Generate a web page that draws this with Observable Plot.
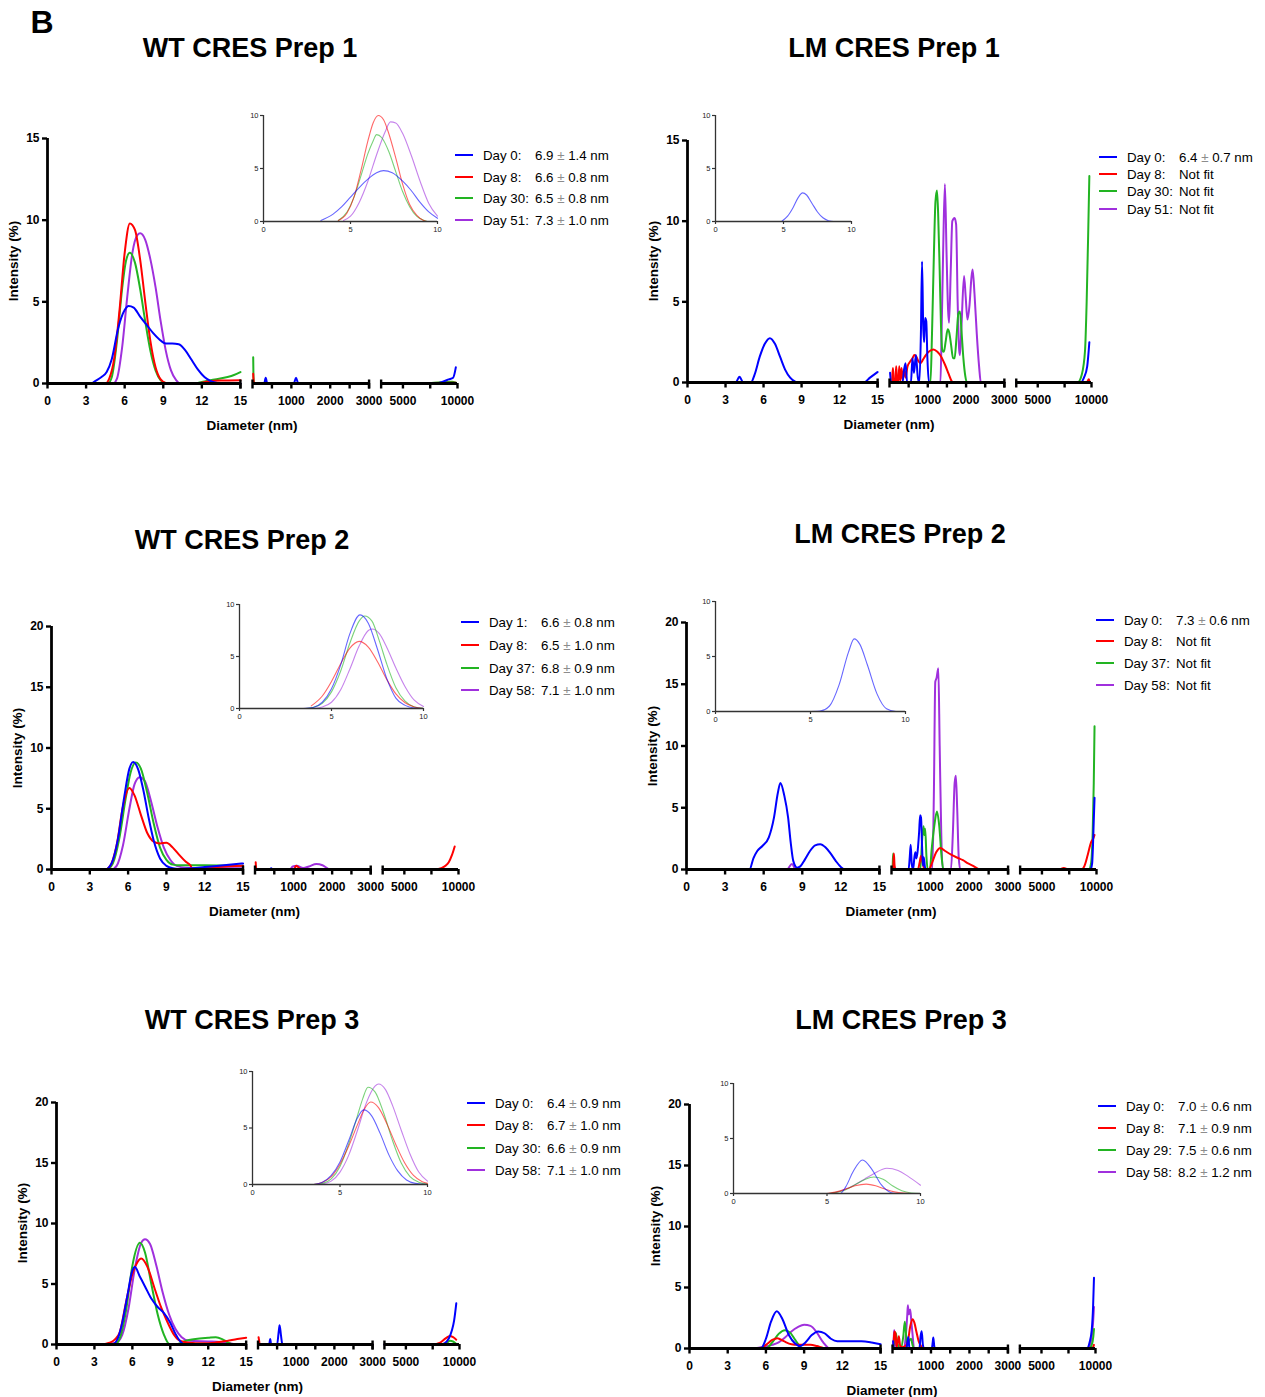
<!DOCTYPE html>
<html>
<head>
<meta charset="utf-8">
<script src="https://cdn.jsdelivr.net/npm/d3@7"></script>
<script src="https://cdn.jsdelivr.net/npm/@observablehq/plot@0.6"></script>
<style>
html,body{margin:0;padding:0;background:#fff;}
#root{position:relative;width:1265px;height:1397px;overflow:hidden;font-family:"Liberation Sans",Arial,Helvetica,sans-serif;color:#000;}
#root .a{position:absolute;white-space:nowrap;}
.big{font-weight:bold;font-size:32px;transform:translate(-50%,-50%);}
.ttl{font-weight:bold;font-size:27px;transform:translate(-50%,-50%);}
.axt{font-weight:bold;font-size:13.5px;transform:translate(-50%,-50%);}
.ayt{font-weight:bold;font-size:13.5px;transform:translate(-50%,-50%) rotate(-90deg);}
.leg{font-size:13.3px;transform:translateY(-50%);}
.pm{color:#8c8c8c;}
</style>
</head>
<body>
<div id="root"></div>
<script>
// ---------- colours ----------
const BLUE = "#0000ff", RED = "#ff0000", GREEN = "#22b422", PURPLE = "#a030dd";
const SERIES_COLORS = [BLUE, RED, GREEN, PURPLE];

// ---------- tick labels ----------
const yTicks15 = [0, 5, 10, 15];
const yTicks20 = [0, 5, 10, 15, 20];
const xMajor = [0, 3, 6, 9, 12, 15, 1000, 2000, 3000, 5000, 10000];
const xMajorSeg = [0, 0, 0, 0, 0, 0, 1, 1, 1, 2, 2];
const xMinor = [500, 1500, 2500, 7500];
const xMinorSeg = [1, 1, 1, 2];
const insetTicks = [0, 5, 10];

// ---------- WT CRES Prep 1 ----------
const wt1Days = ["Day 0:", "Day 8:", "Day 30:", "Day 51:"];
const wt1Sizes = ["6.9 ± 1.4 nm", "6.6 ± 0.8 nm", "6.5 ± 0.8 nm", "7.3 ± 1.0 nm"];
const wt1Day0 = [
  [[0,0],[3.4,0],[3.7,0.15],[4.2,0.4],[4.6,0.7],[5,1.5],[5.5,3.4],[6,4.5],[6.3,4.75],[6.7,4.65],[7.2,4.1],[7.7,3.6],[8.2,3.1],[8.7,2.7],[9.2,2.45],[9.7,2.45],[10.2,2.4],[10.7,2.05],[11.2,1.45],[11.7,0.85],[12.2,0.4],[12.7,0.15],[13.2,0.03],[13.6,0],[15,0]],
  [[15,0],[300,0],[340,0.35],[380,0],[1060,0],[1120,0.35],[1180,0],[3000,0]],
  [[3000,0],[8000,0],[8600,0.1],[9200,0.25],[9600,0.35],[9850,1.0]]
];
const wt1Day8 = [
  [[0,0],[4.5,0],[4.8,0.3],[5.2,1.6],[5.6,4.5],[6,8],[6.4,9.8],[6.8,9.4],[7.2,7.6],[7.6,5],[8,2.6],[8.4,1],[8.8,0.25],[9.2,0.03],[9.6,0],[11.5,0],[12.5,0.12],[13.5,0.18],[15,0.2]],
  [[18,0.6],[30,0.15],[50,0],[3000,0]],
  [[3000,0],[9850,0.05]]
];
const wt1Day30 = [
  [[0,0],[4.7,0],[5,0.4],[5.4,2.6],[5.8,5.8],[6.1,7.5],[6.4,8],[6.8,7.4],[7.2,5.8],[7.6,3.8],[8,2],[8.4,0.8],[8.8,0.2],[9.2,0.02],[9.6,0],[11.5,0],[12,0.1],[13,0.25],[14,0.4],[14.5,0.52],[15,0.7]],
  [[18,1.6],[25,0.4],[40,0],[3000,0]],
  [[3000,0],[7000,0],[8500,0.08],[9500,0.1],[9850,0.05]]
];
const wt1Day51 = [
  [[0,0],[5.1,0],[5.4,0.3],[5.8,2.2],[6.2,5.3],[6.6,8],[7,9.1],[7.2,9.2],[7.6,8.8],[8,7.6],[8.4,5.9],[8.8,3.8],[9.2,2],[9.6,0.8],[10,0.2],[10.3,0],[15,0]],
  [[15,0],[3000,0]],
  [[3000,0],[9850,0]]
];
const wt1Day0Fit = [[3.3,0.1],[4,0.7],[4.5,1.4],[5,2.3],[5.5,3.2],[6,4],[6.5,4.6],[6.9,4.8],[7.4,4.6],[8,3.8],[8.5,2.9],[9,1.8],[9.5,0.9],[10,0.3]];
const wt1Day8Fit = [[4.3,0.1],[4.8,0.8],[5.2,2.3],[5.6,4.8],[6,7.6],[6.3,9.3],[6.6,10],[6.9,9.6],[7.2,8.3],[7.6,6],[8,3.5],[8.4,1.6],[8.8,0.6],[9.2,0.1],[9.4,0]];
const wt1Day30Fit = [[4.3,0.1],[4.8,0.9],[5.2,2.3],[5.6,4.3],[6,6.4],[6.3,7.6],[6.5,8.2],[6.8,7.9],[7.2,6.6],[7.6,4.7],[8,2.8],[8.4,1.4],[8.8,0.5],[9.2,0.12],[9.4,0]];
const wt1Day51Fit = [[4.6,0.1],[5,0.5],[5.5,1.8],[6,3.8],[6.5,6.3],[7,8.5],[7.3,9.4],[7.6,9.3],[8,8.3],[8.5,6.2],[9,3.8],[9.5,1.7],[10,0.5]];

// ---------- LM CRES Prep 1 ----------
const lm1Days = ["Day 0:", "Day 8:", "Day 30:", "Day 51:"];
const lm1Sizes = ["6.4 ± 0.7 nm", "Not fit", "Not fit", "Not fit"];
const lm1Day0 = [
  [[0,0],[3.8,0],[4.1,0.35],[4.4,0],[5,0],[5.3,0.5],[5.7,1.6],[6.1,2.4],[6.5,2.75],[6.9,2.4],[7.3,1.6],[7.7,0.8],[8.1,0.3],[8.5,0.05],[8.8,0],[13.9,0],[14.4,0.3],[15,0.65]],
  [[15,0.6],[40,0],[340,0],[380,0.8],[420,1.2],[460,0],[560,0],[600,1.5],[640,0.6],[690,1.7],[740,0.3],[780,0],[820,3],[850,7.5],[880,3.5],[905,2.5],[930,4],[960,3.8],[990,1.5],[1030,0],[3000,0]],
  [[3000,0],[9000,0],[9300,0.3],[9600,1],[9800,2.5]]
];
const lm1Day8 = [
  [[0,0],[15,0]],
  [[15,0],[60,0],[90,0.9],[115,0],[150,0],[175,1.0],[200,0.1],[230,0],[255,1.0],[285,0.1],[315,0.9],[345,0.2],[385,0.8],[420,0.3],[470,1.0],[540,1.3],[600,1.5],[650,1.7],[700,1.6],[760,1.3],[810,1.2],[870,1.4],[950,1.7],[1050,1.95],[1150,2.05],[1250,1.9],[1350,1.6],[1450,1.1],[1550,0.5],[1620,0.1],[1660,0],[3000,0]],
  [[3000,0],[9550,0],[9750,0.2],[9800,0.1]]
];
const lm1Day30 = [
  [[0,0],[15,0]],
  [[15,0],[1070,0],[1110,3],[1160,8],[1200,11.2],[1240,11.9],[1270,10.5],[1310,7],[1345,3.5],[1380,2],[1420,1.9],[1470,2.6],[1520,3.3],[1560,3.1],[1610,2.3],[1660,1.5],[1700,1.5],[1750,2.8],[1800,4.3],[1840,4.4],[1880,3.2],[1930,1.5],[1980,0.4],[2020,0],[3000,0]],
  [[3000,0],[8700,0],[9100,0.5],[9400,2],[9550,5],[9700,9.5],[9800,12.8]]
];
const lm1Day51 = [
  [[0,0],[15,0]],
  [[15,0],[1330,0],[1360,3],[1400,8],[1447,12.3],[1490,8],[1530,4.5],[1555,3.7],[1600,7],[1640,10],[1700,10.2],[1740,9.8],[1780,5],[1820,2],[1840,1.7],[1880,3.5],[1947,6.6],[1990,5.3],[2035,3.9],[2090,4.8],[2140,6.5],[2170,7],[2220,5.5],[2280,3],[2340,1],[2386,0],[3000,0]],
  [[3000,0],[9800,0]]
];
const lm1Day0Fit = [[4.9,0.05],[5.3,0.5],[5.7,1.3],[6.1,2.3],[6.4,2.7],[6.7,2.5],[7.1,1.7],[7.5,0.9],[7.9,0.35],[8.3,0.08],[8.7,0],[9,0]];

// ---------- WT CRES Prep 2 ----------
const wt2Days = ["Day 1:", "Day 8:", "Day 37:", "Day 58:"];
const wt2Sizes = ["6.6 ± 0.8 nm", "6.5 ± 1.0 nm", "6.8 ± 0.9 nm", "7.1 ± 1.0 nm"];
const wt2Day1 = [
  [[0,0],[4.2,0],[4.7,0.5],[5.2,2.5],[5.7,6],[6.1,8.3],[6.4,8.85],[6.8,8.2],[7.2,6.5],[7.6,4.3],[8,2.4],[8.5,0.9],[9,0.3],[9.5,0.1],[10,0.05],[11,0.1],[12,0.2],[13.5,0.35],[15,0.5]],
  [[15,0],[380,0],[420,0.1],[460,0],[3000,0]],
  [[3000,0],[9700,0]]
];
const wt2Day8 = [
  [[0,0],[4.2,0],[4.6,0.3],[5.1,2],[5.6,5.2],[6.1,6.7],[6.5,6.1],[7,4.5],[7.5,3],[8,2.3],[8.5,2.15],[9,2.2],[9.5,1.8],[10,1.2],[10.5,0.65],[10.9,0.3],[11,0.05],[11.5,0.05],[12,0.1],[13,0.2],[15,0.3]],
  [[18,0.6],[30,0.1],[50,0],[1000,0],[1070,0.3],[1150,0.1],[1250,0],[3000,0]],
  [[3000,0],[7900,0],[8400,0.1],[8800,0.3],[9100,0.6],[9400,1.2],[9650,1.9]]
];
const wt2Day37 = [
  [[0,0],[4.3,0],[4.8,0.5],[5.3,2.5],[5.8,5.8],[6.2,8],[6.6,8.8],[7,8.3],[7.5,6.3],[8,3.8],[8.5,1.8],[9,0.8],[9.5,0.4],[10,0.35],[12,0.35],[15,0.3]],
  [[15,0],[3000,0]],
  [[3000,0],[9700,0]]
];
const wt2Day58 = [
  [[0,0],[4.7,0],[5.1,0.3],[5.6,2],[6.1,5],[6.5,7],[6.9,7.6],[7.3,7.3],[7.8,5.6],[8.3,3.5],[8.8,1.8],[9.3,0.8],[9.8,0.3],[10.5,0.15],[12,0.12],[15,0.1]],
  [[15,0],[900,0],[980,0.25],[1080,0.3],[1250,0.12],[1400,0.25],[1590,0.45],[1750,0.35],[1900,0.05],[1950,0],[3000,0]],
  [[3000,0],[9700,0]]
];
const wt2Day1Fit = [[3.5,0],[4,0.1],[4.5,0.6],[5,1.9],[5.5,4.2],[6,7.2],[6.55,9],[7,8.2],[7.5,5.7],[8,2.9],[8.5,1],[9,0.3],[9.5,0.05],[10,0]];
const wt2Day8Fit = [[3.9,0.25],[4.5,1.2],[5,2.6],[5.5,4.3],[6,5.8],[6.5,6.45],[7,5.9],[7.5,4.5],[8,2.8],[8.5,1.4],[9,0.55],[9.5,0.15],[10,0]];
const wt2Day37Fit = [[3.6,0],[4,0.1],[4.5,0.5],[5,1.6],[5.5,3.6],[6,6.3],[6.5,8.4],[6.8,8.9],[7.2,8.4],[7.6,6.5],[8,4.3],[8.5,2],[9,0.7],[9.5,0.15],[10,0.02]];
const wt2Day58Fit = [[3.1,0],[4,0.02],[4.5,0.15],[5,0.6],[5.5,1.8],[6,3.8],[6.5,6],[7,7.5],[7.2,7.65],[7.6,7.2],[8,5.9],[8.5,3.9],[9,2.1],[9.5,0.8],[10,0.2]];

// ---------- LM CRES Prep 2 ----------
const lm2Days = ["Day 0:", "Day 8:", "Day 37:", "Day 58:"];
const lm2Sizes = ["7.3 ± 0.6 nm", "Not fit", "Not fit", "Not fit"];
const lm2Day0 = [
  [[0,0],[4.9,0],[5.2,0.9],[5.5,1.5],[5.9,1.9],[6.4,2.6],[6.8,4.2],[7.1,6.2],[7.3,7.0],[7.6,6],[7.9,4.2],[8.1,2.2],[8.3,0.7],[8.6,0.15],[8.85,0.25],[9.2,0.8],[9.6,1.5],[10,1.95],[10.4,2.05],[10.8,1.8],[11.2,1.3],[11.6,0.7],[12,0.2],[12.3,0],[15,0]],
  [[15,0],[440,0],[470,1],[494,2.0],[520,0.5],[555,0],[590,1],[615,1.4],[640,0.9],[670,1.4],[710,3],[737,4.4],[760,4.2],[785,2],[810,0.3],[830,1],[860,0.2],[884,0],[3000,0]],
  [[3000,0],[9450,0],[9600,0.5],[9680,2],[9750,4],[9820,5.8]]
];
const lm2Day8 = [
  [[0,0],[15,0]],
  [[15,0],[40,0],[61,1.3],[80,0.3],[110,0],[680,0],[720,0.5],[760,1.1],[800,0.6],[850,0],[960,0],[1050,0.6],[1150,1.4],[1257,1.75],[1380,1.5],[1535,1.2],[1700,0.95],[1838,0.75],[1970,0.5],[2100,0.3],[2230,0.05],[2315,0],[3000,0]],
  [[3000,0],[6600,0],[7000,0.12],[7400,0],[8600,0],[8900,0.3],[9200,1.2],[9500,2.2],[9700,2.5],[9820,2.8]]
];
const lm2Day37 = [
  [[0,0],[15,0]],
  [[15,0],[30,0.3],[43,1.3],[70,0.1],[104,0],[740,0],[790,2.5],[824,3.5],[845,2.8],[867,3.3],[900,1],[930,0],[990,0],[1030,1.5],[1100,3.5],[1170,4.7],[1230,3.5],[1290,1],[1335,0],[3000,0]],
  [[3000,0],[9300,0],[9500,0.5],[9650,3],[9750,7],[9820,11.6]]
];
const lm2Day58 = [
  [[0,0],[7.8,0],[8.2,0.45],[8.5,0],[15,0]],
  [[15,0],[1050,0],[1090,6],[1127,15.2],[1160,15.5],[1205,16.3],[1240,10],[1280,3],[1318,0],[1530,0],[1580,3],[1625,7],[1656,7.6],[1690,5],[1730,1],[1770,0],[3000,0]],
  [[3000,0],[9820,0]]
];
const lm2Day0Fit = [[4.8,0],[5.5,0.05],[6,0.5],[6.5,2.4],[7,5.4],[7.3,6.6],[7.6,6.1],[8,4.2],[8.5,1.6],[9,0.25],[9.5,0],[10,0]];

// ---------- WT CRES Prep 3 ----------
const wt3Days = ["Day 0:", "Day 8:", "Day 30:", "Day 58:"];
const wt3Sizes = ["6.4 ± 0.9 nm", "6.7 ± 1.0 nm", "6.6 ± 0.9 nm", "7.1 ± 1.0 nm"];
const wt3Day0 = [
  [[0,0],[4.4,0],[4.8,0.4],[5.2,1.8],[5.6,4],[6,6.1],[6.2,6.4],[6.6,5.6],[7,4.8],[7.5,3.8],[8,3.1],[8.5,2.6],[9,1.8],[9.4,0.9],[9.8,0.25],[10.1,0],[15,0]],
  [[15,0],[290,0],[320,0.45],[345,0],[500,0],[540,1],[565,1.6],[600,0.8],[640,0],[3000,0]],
  [[3000,0],[8200,0],[8600,0.1],[9000,0.5],[9300,1.2],[9500,2],[9700,3.4]]
];
const wt3Day8 = [
  [[0,0],[3.5,0],[4.2,0.15],[4.6,0.4],[5,1],[5.5,3.5],[6,5.8],[6.4,6.8],[6.7,7.1],[7.2,6.4],[7.8,4.5],[8.3,3],[8.8,1.8],[9.3,0.8],[9.8,0.3],[10.5,0.15],[11.5,0.1],[12.5,0.15],[13.5,0.3],[14.3,0.45],[15,0.55]],
  [[15,0.6],[30,0.3],[45,0],[3000,0]],
  [[3000,0],[7500,0],[8200,0.15],[8700,0.5],[9100,0.7],[9400,0.6],[9700,0.4]]
];
const wt3Day30 = [
  [[0,0],[4.6,0],[5,0.5],[5.5,2.8],[6,6.5],[6.6,8.4],[7,7.6],[7.5,5],[8,2.5],[8.5,0.8],[8.9,0.05],[9.2,0],[9.6,0.05],[10.2,0.3],[11,0.45],[12,0.55],[12.6,0.6],[13.1,0.45],[13.6,0.15],[14,0],[15,0]],
  [[15,0],[3000,0]],
  [[3000,0],[8600,0],[9100,0.3],[9400,0.25],[9700,0.05]]
];
const wt3Day58 = [
  [[0,0],[3.3,0],[4,0.05],[4.7,0.15],[5.2,0.8],[5.7,3],[6.2,6.3],[6.7,8.4],[7,8.7],[7.4,8.3],[7.9,6.5],[8.4,4.3],[8.9,2.5],[9.4,1.3],[9.9,0.6],[10.5,0.3],[12,0.25],[13,0.2],[14,0.05],[15,0]],
  [[15,0],[3000,0]],
  [[3000,0],[9700,0]]
];
const wt3Day0Fit = [[3.5,0],[4,0.2],[4.5,0.8],[5,2],[5.5,3.9],[6,5.9],[6.35,6.6],[6.8,6.1],[7.3,4.5],[7.8,2.6],[8.3,1.2],[8.8,0.4],[9.3,0.1],[10,0]];
const wt3Day8Fit = [[3.5,0],[4,0.2],[4.5,0.7],[5,1.8],[5.5,3.4],[6,5.3],[6.4,6.7],[6.75,7.3],[7.2,6.8],[7.7,5.3],[8.2,3.5],[8.7,1.9],[9.2,0.8],[9.7,0.25],[10,0.1]];
const wt3Day30Fit = [[3.5,0],[4,0.1],[4.5,0.5],[5,1.6],[5.5,3.6],[6,6.1],[6.3,7.6],[6.6,8.6],[7,8.2],[7.5,6.3],[8,3.9],[8.5,1.9],[9,0.7],[9.5,0.2],[10,0.03]];
const wt3Day58Fit = [[3.6,0],[4,0.05],[4.5,0.3],[5,1.1],[5.5,2.6],[6,4.8],[6.5,7.2],[7,8.7],[7.2,8.9],[7.6,8.4],[8,7],[8.5,4.8],[9,2.7],[9.5,1.1],[10,0.3]];

// ---------- LM CRES Prep 3 ----------
const lm3Days = ["Day 0:", "Day 8:", "Day 29:", "Day 58:"];
const lm3Sizes = ["7.0 ± 0.6 nm", "7.1 ± 0.9 nm", "7.5 ± 0.6 nm", "8.2 ± 1.2 nm"];
const lm3Day0 = [
  [[0,0],[5.6,0],[6,0.8],[6.4,2.2],[6.85,3.05],[7.3,2.4],[7.8,1.1],[8.3,0.4],[8.7,0.2],[9.1,0.5],[9.6,1.1],[10.1,1.4],[10.6,1.25],[11.1,0.8],[11.6,0.6],[12.5,0.6],[13.5,0.6],[14.3,0.5],[15,0.35]],
  [[15,0.6],[35,0],[360,0],[390,0.6],[412,0.95],[440,0],[700,0],[730,1],[758,1.42],[790,0.3],[820,0],[1020,0],[1045,0.5],[1060,0.9],[1085,0.2],[1100,0],[3000,0]],
  [[3000,0],[9200,0],[9450,0.5],[9650,1.5],[9780,3.5],[9860,5.8]]
];
const lm3Day8 = [
  [[0,0],[5.5,0],[6,0.3],[6.5,0.7],[6.9,0.85],[7.4,0.6],[8,0.35],[8.5,0.3],[9,0.3],[9.5,0.3],[10,0.2],[10.5,0.05],[11,0],[15,0]],
  [[15,0],[30,0.5],[50,1.4],[80,1.2],[105,0.1],[140,0.6],[165,1.0],[200,0.2],[260,0.1],[330,0.2],[400,0.6],[460,1.8],[520,2.4],[570,2.1],[620,1.4],[680,0.6],[740,0.2],[800,0],[3000,0]],
  [[3000,0],[9600,0],[9800,0.15],[9860,0.3]]
];
const lm3Day29 = [
  [[0,0],[6,0],[6.5,0.5],[7,1.2],[7.5,1.5],[7.9,1.3],[8.3,0.7],[8.7,0.15],[9,0],[15,0]],
  [[15,0],[50,0.6],[85,1.3],[130,0.4],[215,0],[280,1],[320,2.2],[360,0.9],[390,0.2],[430,0.6],[480,0.8],[520,0.3],[560,0],[3000,0]],
  [[3000,0],[9400,0],[9650,0.3],[9800,1.0],[9860,1.6]]
];
const lm3Day58 = [
  [[0,0],[5,0],[5.6,0.1],[6.5,0.3],[7,0.5],[7.5,0.9],[8,1.4],[8.5,1.75],[9,1.95],[9.5,1.85],[10,1.3],[10.5,0.5],[11,0],[15,0]],
  [[15,0],[35,1.0],[45,1.5],[70,0.8],[95,0.2],[140,0],[300,0],[350,1.2],[385,2.8],[400,3.55],[420,2.8],[440,3.0],[460,3.2],[490,2.2],[520,1.2],[560,0],[3000,0]],
  [[3000,0],[9300,0],[9550,0.5],[9750,1.8],[9860,3.4]]
];
const lm3Day0Fit = [[0,0],[5.7,0],[6,0.6],[6.4,2],[6.9,3.05],[7.4,2.2],[7.9,0.8],[8.4,0.1],[8.7,0],[10,0]];
const lm3Day8Fit = [[5,0],[5.5,0.15],[6,0.4],[6.5,0.7],[7.1,0.85],[7.6,0.7],[8.1,0.4],[8.6,0.15],[9.1,0.03],[9.5,0],[10,0]];
const lm3Day29Fit = [[5.1,0],[5.5,0.1],[6,0.35],[6.5,0.8],[7,1.25],[7.5,1.5],[8,1.3],[8.5,0.7],[9,0.25],[9.5,0.05],[10,0]];
const lm3Day58Fit = [[5.2,0],[5.5,0.1],[6,0.4],[6.5,0.8],[7,1.3],[7.5,1.8],[8.2,2.3],[8.8,2.1],[9.3,1.6],[10,0.75]];

// ---------- segmented x axis (0–15 | 0–3000 | 3000–10000) ----------
const SEGS = [
  {d0: 0, d1: 15, p0: 0, p1: 192},
  {d0: 0, d1: 3000, p0: 204, p1: 320},
  {d0: 3000, d1: 10000, p0: 332, p1: 408}
];
function pos(d, k) {
  const s = SEGS[k];
  return s.p0 + (d - s.d0) / (s.d1 - s.d0) * (s.p1 - s.p0);
}

// ---------- layout ----------
const panels = [
  {title: "WT CRES Prep 1", tx: 250, ty: 48, ax: 47, w: 410, y0: 383, yTop: 138, yTicks: yTicks15,
   inset: {x0: 263, x10: 437, y0: 221, y10: 115}, leg: {lx: 455, ys: [155, 177, 198, 220]},
   series: [wt1Day0, wt1Day8, wt1Day30, wt1Day51], fits: [wt1Day0Fit, wt1Day8Fit, wt1Day30Fit, wt1Day51Fit],
   days: wt1Days, sizes: wt1Sizes},
  {title: "LM CRES Prep 1", tx: 894, ty: 48, ax: 687, w: 404, y0: 382, yTop: 140, yTicks: yTicks15,
   inset: {x0: 715, x10: 851, y0: 221, y10: 115}, leg: {lx: 1099, ys: [157, 174, 191, 209]},
   series: [lm1Day0, lm1Day8, lm1Day30, lm1Day51], fits: [lm1Day0Fit, null, null, null],
   days: lm1Days, sizes: lm1Sizes},
  {title: "WT CRES Prep 2", tx: 242, ty: 540, ax: 51, w: 407, y0: 869, yTop: 626, yTicks: yTicks20,
   inset: {x0: 239, x10: 423, y0: 708, y10: 604}, leg: {lx: 461, ys: [622, 645, 668, 690]},
   series: [wt2Day1, wt2Day8, wt2Day37, wt2Day58], fits: [wt2Day1Fit, wt2Day8Fit, wt2Day37Fit, wt2Day58Fit],
   days: wt2Days, sizes: wt2Sizes},
  {title: "LM CRES Prep 2", tx: 900, ty: 534, ax: 686, w: 410, y0: 869, yTop: 622, yTicks: yTicks20,
   inset: {x0: 715, x10: 905, y0: 711, y10: 601}, leg: {lx: 1096, ys: [620, 641, 663, 685]},
   series: [lm2Day0, lm2Day8, lm2Day37, lm2Day58], fits: [lm2Day0Fit, null, null, null],
   days: lm2Days, sizes: lm2Sizes},
  {title: "WT CRES Prep 3", tx: 252, ty: 1020, ax: 56, w: 403, y0: 1344, yTop: 1102, yTicks: yTicks20,
   inset: {x0: 252, x10: 427, y0: 1184, y10: 1071}, leg: {lx: 467, ys: [1103, 1125, 1148, 1170]},
   series: [wt3Day0, wt3Day8, wt3Day30, wt3Day58], fits: [wt3Day0Fit, wt3Day8Fit, wt3Day30Fit, wt3Day58Fit],
   days: wt3Days, sizes: wt3Sizes},
  {title: "LM CRES Prep 3", tx: 901, ty: 1020, ax: 689, w: 406, y0: 1348, yTop: 1104, yTicks: yTicks20,
   inset: {x0: 733, x10: 920, y0: 1193, y10: 1083}, leg: {lx: 1098, ys: [1106, 1128, 1150, 1172]},
   series: [lm3Day0, lm3Day8, lm3Day29, lm3Day58], fits: [lm3Day0Fit, lm3Day8Fit, lm3Day29Fit, lm3Day58Fit],
   days: lm3Days, sizes: lm3Sizes}
];

const root = document.getElementById("root");
const FONT = '"Liberation Sans", Arial, Helvetica, sans-serif';
const DRAW_ORDER = [3, 2, 1, 0];

function place(el, x, y) {
  const d = document.createElement("div");
  d.className = "a";
  d.style.left = x + "px";
  d.style.top = y + "px";
  d.appendChild(el);
  root.appendChild(d);
}
function addText(html, cls, x, y) {
  const d = document.createElement("div");
  d.className = "a " + cls;
  d.style.left = x + "px";
  d.style.top = y + "px";
  d.innerHTML = html;
  root.appendChild(d);
  return d;
}

function mainPlot(P) {
  const ml = 50, mr = 14, mt = 8, mb = 34;
  const H = P.y0 - P.yTop;
  const yMax = P.yTicks[P.yTicks.length - 1];
  const ppu = H / yMax;
  const majorPos = xMajor.map((v, i) => pos(v, xMajorSeg[i]));
  const labelOf = new Map(majorPos.map((p, i) => [p, String(xMajor[i])]));
  const minorPos = xMinor.map((v, i) => pos(v, xMinorSeg[i]));
  const breaks = [pos(15, 0), pos(0, 1), pos(3000, 1), pos(3000, 2)];
  const marks = [];
  for (const s of DRAW_ORDER) {
    const rows = [];
    P.series[s].forEach((seg, k) => seg.forEach(([d, y]) => rows.push({d, y, k})));
    marks.push(Plot.line(rows, {x: r => pos(r.d, r.k), y: "y", z: "k", stroke: SERIES_COLORS[s], strokeWidth: 2, curve: "monotone-x"}));
  }
  marks.push(Plot.ruleY(SEGS, {y: 0, x1: (s, i) => pos(s.d0, i), x2: (s, i) => pos(s.d1, i), stroke: "#000", strokeWidth: 2.8}));
  marks.push(Plot.ruleX([0], {y1: 0, y2: yMax, stroke: "#000", strokeWidth: 2.8}));
  marks.push(Plot.ruleX(breaks, {y1: -5.5 / ppu, y2: 3.5 / ppu, stroke: "#000", strokeWidth: 2.4}));
  marks.push(Plot.axisY({ticks: P.yTicks, tickSize: 5, tickPadding: 3, strokeWidth: 2.4, fontSize: 12, fontWeight: "bold", label: null}));
  marks.push(Plot.axisX({ticks: majorPos, tickFormat: p => labelOf.get(p) ?? "", tickSize: 5.5, tickPadding: 7, strokeWidth: 2.4, fontSize: 12, fontWeight: "bold", label: null}));
  marks.push(Plot.axisX({ticks: minorPos, tickFormat: () => "", tickSize: 5.5, strokeWidth: 2.4, label: null}));
  const svg = Plot.plot({
    width: ml + P.w + mr, height: mt + H + mb,
    marginLeft: ml, marginRight: mr, marginTop: mt, marginBottom: mb,
    x: {type: "linear", domain: [0, 408]},
    y: {type: "linear", domain: [0, yMax]},
    style: {background: "transparent", overflow: "visible", maxWidth: "none", fontFamily: FONT, fontSize: "12px", fontWeight: "bold", color: "#000"},
    marks
  });
  place(svg, P.ax - ml, P.yTop - mt);
}

function insetPlot(P) {
  const I = P.inset;
  const ml = 22, mr = 8, mt = 6, mb = 18;
  const W = I.x10 - I.x0, H = I.y0 - I.y10;
  const marks = [];
  for (const s of DRAW_ORDER) {
    const f = P.fits[s];
    if (!f) continue;
    marks.push(Plot.line(f, {x: d => d[0], y: d => d[1], stroke: SERIES_COLORS[s], strokeWidth: 1.1, strokeOpacity: 0.6, curve: "monotone-x"}));
  }
  marks.push(Plot.ruleY([0], {x1: 0, x2: 10, stroke: "#333", strokeWidth: 1.3}));
  marks.push(Plot.ruleX([0], {y1: 0, y2: 10, stroke: "#333", strokeWidth: 1.3}));
  marks.push(Plot.axisX({ticks: insetTicks, tickSize: 3, tickPadding: 2, strokeWidth: 1.2, stroke: "#333", fontSize: 7.5, label: null}));
  marks.push(Plot.axisY({ticks: insetTicks, tickSize: 3, tickPadding: 2, strokeWidth: 1.2, stroke: "#333", fontSize: 7.5, label: null}));
  const svg = Plot.plot({
    width: ml + W + mr, height: mt + H + mb,
    marginLeft: ml, marginRight: mr, marginTop: mt, marginBottom: mb,
    x: {type: "linear", domain: [0, 10]},
    y: {type: "linear", domain: [0, 10]},
    style: {background: "transparent", overflow: "visible", maxWidth: "none", fontFamily: FONT, fontSize: "7.5px", color: "#222"},
    marks
  });
  place(svg, I.x0 - ml, I.y10 - mt);
}

function legend(P) {
  const L = P.leg;
  P.days.forEach((day, i) => {
    const y = L.ys[i];
    const ln = document.createElement("div");
    ln.className = "a";
    ln.style.left = L.lx + "px";
    ln.style.top = (y - 1) + "px";
    ln.style.width = "18px";
    ln.style.height = "2px";
    ln.style.background = SERIES_COLORS[i];
    root.appendChild(ln);
    addText(day, "leg", L.lx + 28, y);
    addText(P.sizes[i].replace("±", '<span class="pm">±</span>'), "leg", L.lx + 80, y);
  });
}

addText("B", "big", 42, 22);
for (const P of panels) {
  addText(P.title, "ttl", P.tx, P.ty);
  mainPlot(P);
  insetPlot(P);
  legend(P);
  addText("Diameter (nm)", "axt", P.ax + P.w / 2, P.y0 + 42);
  addText("Intensity (%)", "ayt", P.ax - 34, (P.y0 + P.yTop) / 2);
}
</script>
</body>
</html>
